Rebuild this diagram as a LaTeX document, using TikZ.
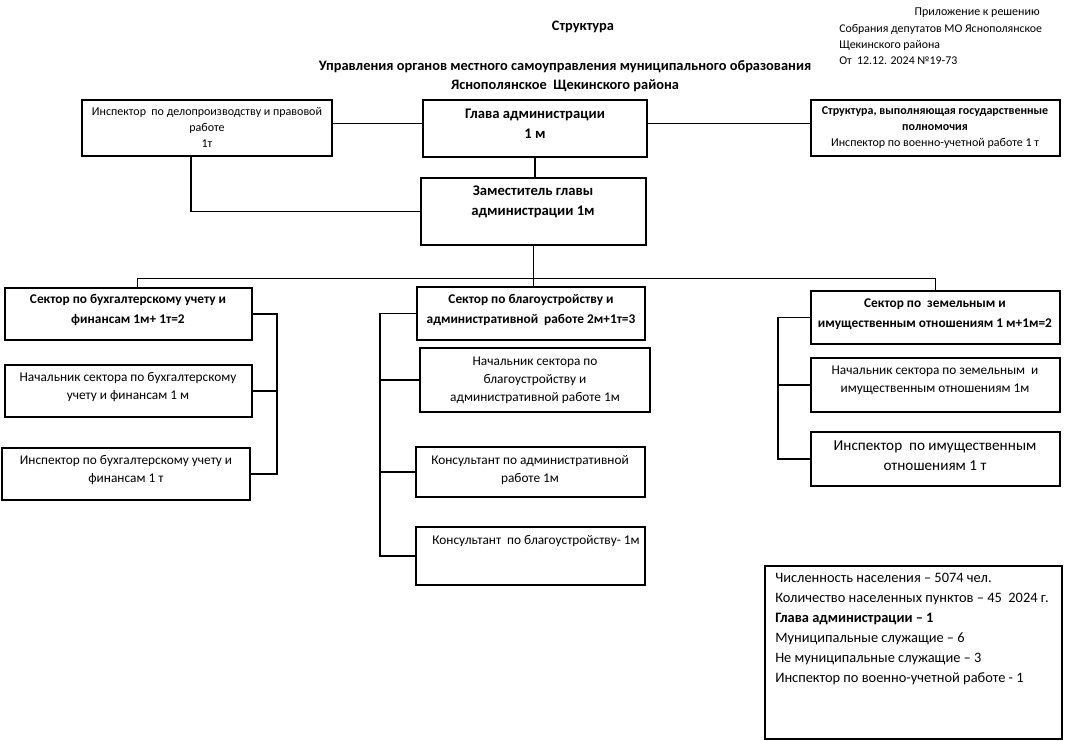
\documentclass[tikz,border=0pt]{standalone}
\usepackage{fontspec}
\setmainfont{Carlito}
\usetikzlibrary{fit}
\newcommand\myfs[2]{\fontsize{#1}{#2}\selectfont}
\newcommand\mybox[5]{\node[box, fit={(#2,#3) (#4,#5)}] (#1) {};}
\begin{document}
\begin{tikzpicture}[x=0.75pt,y=-0.75pt,
  box/.style={draw, line width=0.8pt, inner sep=0pt},
  lk/.style={line width=0.8pt},
  txt/.style={align=center, inner sep=0pt},
  sm/.style={font=\myfs{9}{12}},
  bd/.style={font=\bfseries\myfs{11}{15}},
  sb/.style={font=\bfseries\myfs{10}{15}},
  nr/.style={font=\myfs{10}{13.5}}]
\useasboundingbox (0,0) rectangle (1067,740);
% header
\node[txt, font=\bfseries\myfs{10.8}{15}] (title) at (583,27) {Структура};
\node[txt, font=\bfseries\myfs{10.8}{14.25}] (title2) at (565,76.5) {Управления органов местного самоуправления муниципального образования\\Яснополянское \ Щекинского района};
\node[anchor=east, inner sep=0pt, sm] (app1) at (1040,13) {Приложение к решению};
\node[anchor=west, inner sep=0pt, font=\myfs{8.9}{12}, align=left] (app2) at (839,45) {Собрания депутатов МО Яснополянское\\Щекинского района\\От \ 12.12. 2024 №19-73};
% boxes
\mybox{insp}{82}{100}{332}{156}
\mybox{glava}{423}{100}{647}{157}
\mybox{gos}{811}{100}{1060}{156}
\mybox{zam}{421}{178}{646}{245}
\mybox{sec1}{5}{288}{252}{340}
\mybox{b11}{5}{365}{252}{417}
\mybox{b12}{2}{448}{250}{500}
\mybox{sec2}{417}{287}{645}{340}
\mybox{b21}{420}{348}{650}{412}
\mybox{b22}{416}{447}{645}{497}
\mybox{b23}{416}{527}{645}{585}
\mybox{sec3}{811}{291}{1060}{344}
\mybox{b31}{811}{358}{1060}{412}
\mybox{b32}{811}{432}{1060}{486}
\mybox{info}{765}{566}{1062}{739}
% texts
\node[txt, sm] (tinsp) at (207,127.5) {Инспектор \ по делопроизводству и правовой\\работе\\1т};
\node[txt, bd] (tglava) at (535,124) {Глава администрации\\1 м};
\node[txt, font=\myfs{9}{12}] (tgos) at (935,127.5) {\textbf{Структура, выполняющая государственные}\\\textbf{полномочия}\\Инспектор по военно-учетной работе 1 т};
\node[txt, bd] (tzam) at (533,202) {Заместитель главы\\администрации 1м};
\node[txt, sb] (tsec1) at (128,310) {Сектор по бухгалтерскому учету и\\финансам 1м+ 1т=2};
\node[txt, nr] (tb11) at (128,387) {Начальник сектора по бухгалтерскому\\учету и финансам 1 м};
\node[txt, nr] (tb12) at (126,470.5) {Инспектор по бухгалтерскому учету и\\финансам 1 т};
\node[txt, sb] (tsec2) at (531,310) {Сектор по благоустройству и\\административной \ работе 2м+1т=3};
\node[txt, nr] (tb21) at (535,380) {Начальник сектора по\\благоустройству и\\административной работе 1м};
\node[txt, nr] (tb22) at (530,470) {Консультант по административной\\работе 1м};
\node[txt, nr] (tb23) at (536,541) {Консультант \ по благоустройству- 1м};
\node[txt, sb] (tsec3) at (935,314.5) {Сектор по \ земельным и\\имущественным отношениям 1 м+1м=2};
\node[txt, nr] (tb31) at (935,380.5) {Начальник сектора по земельным \ и\\имущественным отношениям 1м};
\node[txt, font=\myfs{11.4}{15}] (tb32) at (935,456) {Инспектор \ по имущественным\\отношениям 1 т};
\node[anchor=north west, inner sep=0pt, align=left, font=\myfs{10.8}{15}] (tinfo) at (775,573) {Численность населения -- 5074 чел.\\Количество населенных пунктов -- 45 \ 2024 г.\\\textbf{Глава администрации -- 1}\\Муниципальные служащие -- 6\\Не муниципальные служащие -- 3\\Инспектор по военно-учетной работе - 1};
% connectors
\draw[lk] ([yshift=3.5]insp.east) -- ([yshift=3.5]insp.east -| glava.west);
\draw[lk] ([yshift=4]glava.east) -- ([yshift=4]glava.east -| gos.west);
\draw[lk] (glava.south) -- (glava.south |- zam.north);
\draw[lk] ([xshift=-12]insp.south) |- (zam.west);
\coordinate (bus) at ([yshift=-25]zam.south);
\draw[lk] (zam.south) -- (bus);
\draw[lk] ([xshift=6.5]sec1.north) |- (bus) -| (sec3.north);
\draw[lk] (bus) -- (bus |- sec2.north);
\coordinate (lsp) at (277,0);
\draw[lk] (sec1.east) -| (lsp |- b12.east) -- (b12.east);
\draw[lk] (b11.east) -- (lsp |- b11.east);
\coordinate (msp) at (380,0);
\draw[lk] (sec2.west) -| (msp |- b23.west) -- (b23.west);
\draw[lk] (b21.west) -- (msp |- b21.west);
\draw[lk] (b22.west) -- (msp |- b22.west);
\coordinate (rsp) at (778,0);
\draw[lk] (sec3.west) -| (rsp |- b32.west) -- (b32.west);
\draw[lk] (b31.west) -- (rsp |- b31.west);
\end{tikzpicture}
\end{document}
